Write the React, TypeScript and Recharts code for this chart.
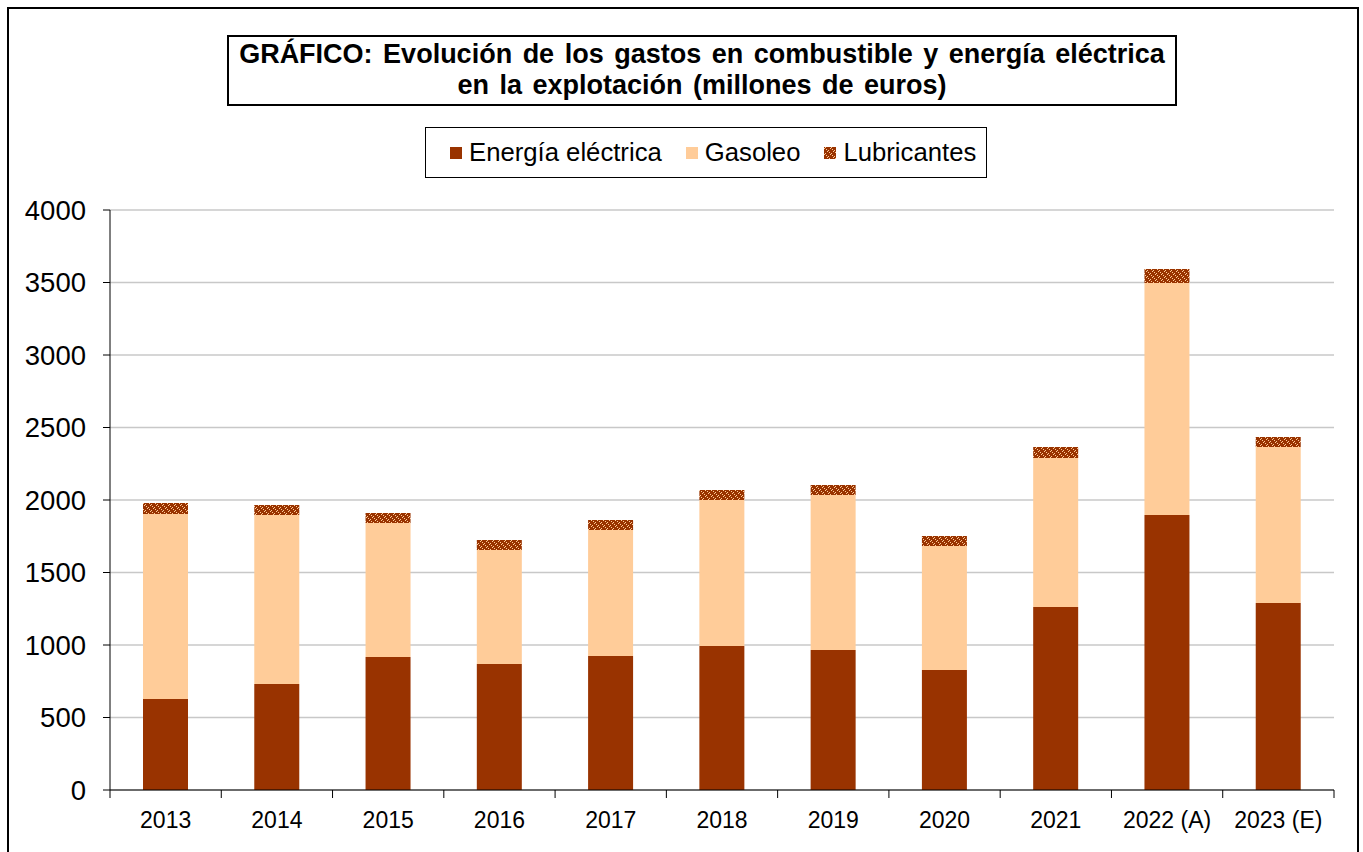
import React from "react";
import {
  BarChart,
  Bar,
  XAxis,
  YAxis,
  CartesianGrid,
  Legend,
} from "recharts";

// millones de euros
const years = [
  "2013", "2014", "2015", "2016", "2017", "2018",
  "2019", "2020", "2021", "2022 (A)", "2023 (E)",
];
const energiaElectrica = [628, 731, 917, 869, 924, 993, 966, 828, 1262, 1897, 1290];
const gasoleo = [1275, 1166, 924, 786, 869, 1007, 1068, 855, 1028, 1600, 1076];
const lubricantes = [76, 69, 69, 69, 69, 69, 69, 69, 76, 96, 68];
const yTicks = [0, 500, 1000, 1500, 2000, 2500, 3000, 3500, 4000];

const DARK = "#993300";
const LIGHT = "#FFCC99";
const FONT = "'Liberation Sans', Arial, sans-serif";

const CHART_W = 1348;
const CHART_H = 836;
const MARGIN = { top: 201, right: 23, bottom: 5, left: 21 };
const Y_AXIS_W = 80;
const PLOT_W = CHART_W - MARGIN.left - MARGIN.right - Y_AXIS_W;
const BAND = PLOT_W / years.length;

const data = years.map((y, i) => ({
  year: y,
  electrica: energiaElectrica[i],
  gasoleo: gasoleo[i],
  lubricantes: lubricantes[i],
}));

const legendItems = [
  { label: "Energía eléctrica", fill: DARK },
  { label: "Gasoleo", fill: LIGHT },
  { label: "Lubricantes", fill: "url(#lubHatch)" },
];

const XTick = (props: any) => {
  const { x, y, payload, index } = props;
  const last = index === years.length - 1;
  return (
    <g>
      <line x1={x - BAND / 2} x2={x - BAND / 2} y1={y} y2={y + 8} stroke="#000" />
      {last && (
        <line x1={x + BAND / 2} x2={x + BAND / 2} y1={y} y2={y + 8} stroke="#000" />
      )}
      <text
        x={x}
        y={y + 38}
        textAnchor="middle"
        fontSize={23}
        fontFamily={FONT}
        fill="#000"
      >
        {payload.value}
      </text>
    </g>
  );
};

const LegendBox = () => (
  <div
    style={{
      border: "1px solid #000",
      background: "#fff",
      height: 51,
      display: "flex",
      alignItems: "center",
      paddingLeft: 24,
      fontFamily: FONT,
      fontSize: 25.7,
      color: "#000",
      boxSizing: "border-box",
      whiteSpace: "nowrap",
    }}
  >
    {legendItems.map((it) => (
      <span
        key={it.label}
        style={{ display: "flex", alignItems: "center", marginRight: 24 }}
      >
        <svg width={12} height={12} style={{ marginRight: 7 }}>
          <rect width={12} height={12} fill={it.fill} />
        </svg>
        {it.label}
      </span>
    ))}
  </div>
);

export default function App() {
  return (
    <div
      style={{
        position: "absolute",
        left: 7,
        top: 7,
        width: 1352,
        height: 845,
        border: "2px solid #000",
        borderBottom: "none",
        boxSizing: "border-box",
        background: "#fff",
      }}
    >
      <div
        style={{
          position: "absolute",
          left: 218,
          top: 26,
          width: 950,
          height: 71,
          border: "2px solid #000",
          boxSizing: "border-box",
          fontFamily: FONT,
          fontWeight: "bold",
          fontSize: 27,
          lineHeight: "31px",
          wordSpacing: 3,
          textAlign: "center",
          paddingTop: 2,
          color: "#000",
          whiteSpace: "nowrap",
        }}
      >
        GRÁFICO: Evolución de los gastos en combustible y energía eléctrica
        <br />
        en la explotación (millones de euros)
      </div>

      <BarChart
        width={CHART_W}
        height={CHART_H}
        data={data}
        margin={MARGIN}
        barSize={45}
        style={{ position: "absolute", left: 0, top: 0 }}
      >
        <defs>
          <pattern id="lubHatch" width={6} height={6} patternUnits="userSpaceOnUse">
            <rect width={6} height={6} fill={DARK} />
            <rect x={0} y={1} width={1} height={1} fill={LIGHT} />
            <rect x={1} y={0} width={1} height={1} fill={LIGHT} />
            <rect x={3} y={4} width={1} height={1} fill={LIGHT} />
            <rect x={4} y={3} width={1} height={1} fill={LIGHT} />
            <rect x={2} y={2} width={1} height={1} fill={LIGHT} />
            <rect x={5} y={5} width={1} height={1} fill={LIGHT} />
          </pattern>
        </defs>
        <CartesianGrid vertical={false} stroke="#C8C8C8" strokeWidth={1.5} />
        <XAxis
          dataKey="year"
          height={50}
          axisLine={{ stroke: "#000" }}
          tickLine={false}
          tickSize={0}
          tickMargin={0}
          interval={0}
          tick={<XTick />}
        />
        <YAxis
          width={Y_AXIS_W}
          domain={[0, 4000]}
          ticks={yTicks}
          interval={0}
          axisLine={{ stroke: "#000" }}
          tickLine={{ stroke: "#000" }}
          tickSize={7}
          tickMargin={17}
          tick={{ fill: "#000", fontSize: 27.5, fontFamily: FONT }}
        />
        <YAxis
          yAxisId="frame"
          orientation="right"
          width={0}
          domain={[0, 4000]}
          tick={false}
          tickLine={false}
          axisLine={{ stroke: "#808080" }}
        />
        <Legend
          layout="horizontal"
          verticalAlign="middle"
          align="center"
          content={<LegendBox />}
          wrapperStyle={{ top: 118, left: 416, width: 562, height: 51 }}
        />
        <Bar
          dataKey="electrica"
          name="Energía eléctrica"
          stackId="a"
          fill={DARK}
          isAnimationActive={false}
        />
        <Bar
          dataKey="gasoleo"
          name="Gasoleo"
          stackId="a"
          fill={LIGHT}
          isAnimationActive={false}
        />
        <Bar
          dataKey="lubricantes"
          name="Lubricantes"
          stackId="a"
          fill="url(#lubHatch)"
          isAnimationActive={false}
        />
      </BarChart>
    </div>
  );
}
